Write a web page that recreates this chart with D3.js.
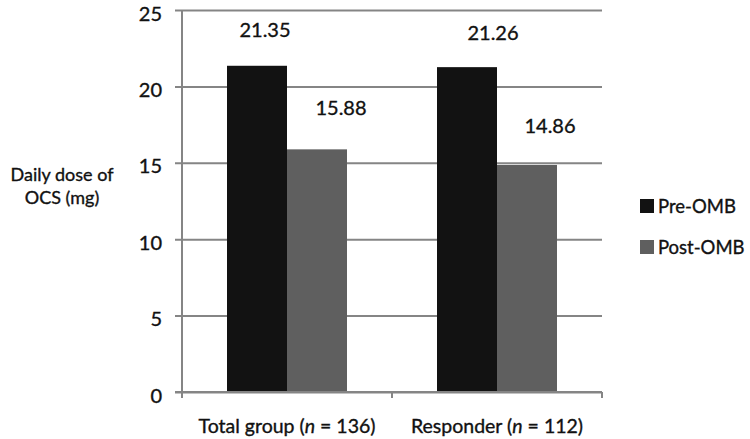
<!DOCTYPE html>
<html>
<head>
<meta charset="utf-8">
<script src="https://cdn.jsdelivr.net/npm/d3@7"></script>
<style>
  body { margin: 0; background: #fff; }
  text { font-family: Lato, "Open Sans", sans-serif; fill: #111; stroke: #111; stroke-width: 0.35px; }
  .axis path, .axis line { stroke: #858585; stroke-width: 2; }
  .axis text { font-size: 20px; }
</style>
</head>
<body>
<div id="chart"></div>
<script>
const groups = ['Total group', 'Responder'];
const groupN = [136, 112];
const series = ['Pre-OMB', 'Post-OMB'];
const preValues = [21.35, 21.26];
const postValues = [15.88, 14.86];
const yTicks = [0, 5, 10, 15, 20, 25];

const colors = ['#121212', '#5f5f5f'];
// manual label nudges, as placed in the original
const labelDx = [[8, 24], [26, 23]];
const labelDy = [[-29, -34], [-27, -32]];

const width = 750, height = 439;
const margin = { left: 182, right: 148, top: 10, bot: 47 };
const innerW = width - margin.left - margin.right;
const innerH = height - margin.top - margin.bot;

const svg = d3.select('#chart')
  .append('svg')
  .attr('width', width)
  .attr('height', height);

const g = svg.append('g')
  .attr('transform', `translate(${margin.left}, ${margin.top})`);

const xScale = d3.scaleBand().domain(groups).range([0, innerW]);
const x1 = d3.scaleBand().domain(series).range([45, xScale.bandwidth() - 45]);
const yScale = d3.scaleLinear().domain([0, 25]).range([innerH, 0]);

// gridlines + y axis
const yAxis = g.append('g')
  .attr('class', 'axis y')
  .call(d3.axisLeft(yScale).tickValues(yTicks).tickSize(-innerW - 7).tickSizeOuter(0));
yAxis.select('.domain').remove();
yAxis.selectAll('.tick line').attr('x1', -7).attr('x2', innerW);
yAxis.selectAll('.tick text').attr('x', -20).attr('dy', '0.5em');

g.append('line')
  .attr('x1', 0).attr('x2', 0)
  .attr('y1', 0).attr('y2', innerH)
  .attr('stroke', '#858585').attr('stroke-width', 2);

// bars
const data = groups.map((grp, i) => ({
  grp,
  values: [
    { key: series[0], value: preValues[i], dx: labelDx[i][0], dy: labelDy[i][0] },
    { key: series[1], value: postValues[i], dx: labelDx[i][1], dy: labelDy[i][1] }
  ]
}));

const groupG = g.selectAll('.group')
  .data(data)
  .enter()
  .append('g')
  .attr('class', 'group')
  .attr('transform', (d) => `translate(${xScale(d.grp)}, 0)`);

groupG.selectAll('rect')
  .data((d) => d.values)
  .enter()
  .append('rect')
  .attr('x', (d) => x1(d.key))
  .attr('width', x1.bandwidth())
  .attr('y', (d) => yScale(d.value))
  .attr('height', (d) => innerH - yScale(d.value))
  .attr('fill', (d, i) => colors[i]);

groupG.selectAll('.val')
  .data((d) => d.values)
  .enter()
  .append('text')
  .attr('class', 'val')
  .attr('x', (d) => x1(d.key) + x1.bandwidth() / 2 + d.dx)
  .attr('y', (d) => yScale(d.value) + d.dy)
  .attr('text-anchor', 'middle')
  .style('font-size', '20px')
  .text((d) => d.value.toFixed(2));

// x axis baseline with category ticks
const xAxis = g.append('g')
  .attr('class', 'axis x')
  .attr('transform', `translate(0, ${innerH})`);
xAxis.append('line')
  .attr('x1', -7).attr('x2', innerW);
xAxis.selectAll('.ctick')
  .data(d3.range(groups.length + 1))
  .enter()
  .append('line')
  .attr('class', 'ctick')
  .attr('x1', (d) => d * xScale.bandwidth())
  .attr('x2', (d) => d * xScale.bandwidth())
  .attr('y1', 0).attr('y2', 6);

const xl = xAxis.selectAll('.xlabel')
  .data(groups)
  .enter()
  .append('text')
  .attr('class', 'xlabel')
  .attr('x', (d) => xScale(d) + xScale.bandwidth() / 2)
  .attr('y', 41)
  .attr('text-anchor', 'middle')
  .style('font-size', '19.5px');
xl.append('tspan').text((d) => `${d} (`);
xl.append('tspan').style('font-style', 'italic').text('n');
xl.append('tspan').text((d, i) => ` = ${groupN[i]})`);

// y title
const yTitle = svg.append('text')
  .attr('text-anchor', 'middle')
  .style('font-size', '18px');
yTitle.append('tspan').attr('x', 62).attr('y', 181).text('Daily dose of');
yTitle.append('tspan').attr('x', 62).attr('y', 204).text('OCS (mg)');

// legend
const legend = svg.append('g')
  .attr('transform', 'translate(640, 199)');
const item = legend.selectAll('.item')
  .data(series)
  .enter()
  .append('g')
  .attr('transform', (d, i) => `translate(0, ${i * 41})`);
item.append('rect')
  .attr('width', 14).attr('height', 14)
  .attr('fill', (d, i) => colors[i]);
item.append('text')
  .attr('x', 18).attr('y', 14)
  .style('font-size', '18.5px')
  .text((d) => d);
</script>
</body>
</html>
